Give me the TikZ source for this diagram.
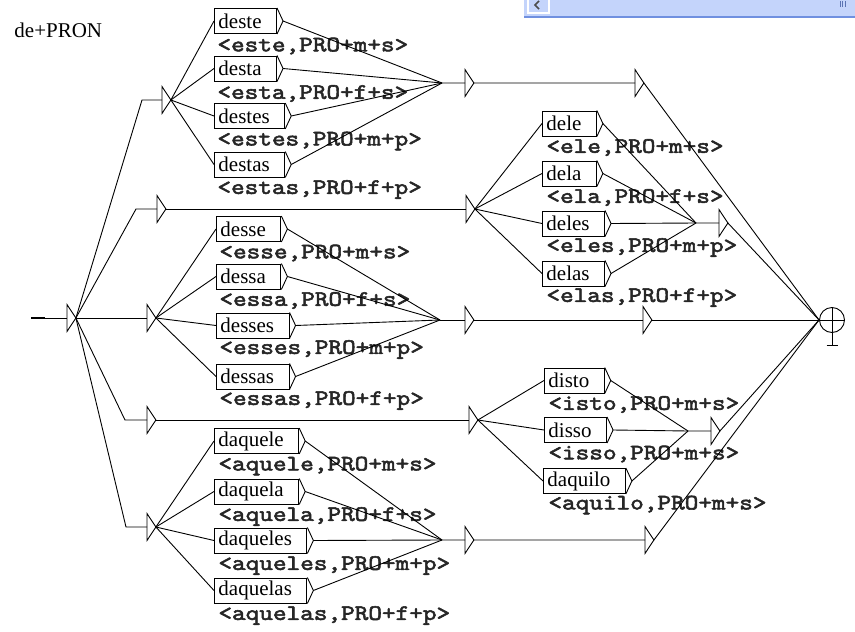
\documentclass[tikz,border=0pt]{standalone}
\usepackage{fontspec}
\setmainfont{Liberation Serif}
\newfontfamily\outfont{lmmono10-regular.otf}[FakeStretch=1.18, FakeBold=2.5]
\usetikzlibrary{calc,positioning}

\definecolor{barfill}{HTML}{C4D4FB}
\definecolor{barline}{HTML}{7090E0}

\begin{document}
\begin{tikzpicture}[x=1pt, y=-1pt, line width=0.9pt,
    epsbox/.style={inner sep=0pt, minimum width=8pt, minimum height=26pt, anchor=west},
    wordbox/.style={draw, rectangle, inner xsep=4pt, inner ysep=0pt, minimum height=25pt, anchor=west,
        font=\fontsize{21}{24}\selectfont, execute at end node={\hspace{11pt}}},
    outlabel/.style={anchor=west, inner sep=0pt, text=black!85, font=\outfont\fontsize{22}{26}\selectfont}]
    \useasboundingbox (0,0) rectangle (855,632);

    % scroll bar of the window
    \fill[barfill] (524,0) rectangle (855,17);
    \draw[barline, line width=2pt] (524,17) -- (855,17);
    \draw[white, line width=1.2pt] (528,0) -- (528,13) -- (549,13) -- (549,0);
    \draw[black!70, line width=1.5pt] (539,1) -- (535,5) -- (539,9);
    \draw[barline!80!black, line width=0.6pt] (840,1) -- (840,7) (842.5,1) -- (842.5,7) (845,1) -- (845,7);

    \node[anchor=west, inner sep=0pt, font=\fontsize{21}{24}\selectfont] (title) at (14,30) {de+PRON};

    % initial state and the five branches
    \coordinate (start) at (31,318);
    \coordinate (startend) at (45,318);
    \node[epsbox] (i0) at (67,318) {};
    \node[epsbox] (t1) at (162,100) {};
    \node[epsbox] (t2) at (157,209) {};
    \node[epsbox] (t3) at (147,318) {};
    \node[epsbox] (t4) at (147,420) {};
    \node[epsbox] (t5) at (147,527) {};
    \coordinate (t1in) at (142,100);
    \coordinate (t2in) at (136,209);
    \coordinate (t4in) at (125,420);
    \coordinate (t5in) at (126,527);

    % deste ...
    \node[wordbox] (deste)  at (214,21)    {deste};
    \node[wordbox] (desta)  at (214,68.5)  {desta};
    \node[wordbox] (destes) at (214,116)   {destes};
    \node[wordbox] (destas) at (214,164.5) {destas};
    \node[outlabel] (odeste)  at ($(deste.west)+(3,25)$)  {<este,PRO+m+s>};
    \node[outlabel] (odesta)  at ($(desta.west)+(3,25)$)  {<esta,PRO+f+s>};
    \node[outlabel] (odestes) at ($(destes.west)+(3,25)$) {<estes,PRO+m+p>};
    \node[outlabel] (odestas) at ($(destas.west)+(3,25)$) {<estas,PRO+f+p>};
    \coordinate (mA) at (442,83);
    \node[epsbox] (a1) at (465,83) {};
    \node[epsbox] (a2) at (635,83) {};

    % dele ...
    \node[epsbox] (b1) at (466,209) {};
    \node[wordbox] (dele)  at (542,123.5) {dele};
    \node[wordbox] (dela)  at (542,173.5) {dela};
    \node[wordbox] (deles) at (542,223.5) {deles};
    \node[wordbox] (delas) at (542,273.5) {delas};
    \node[outlabel] (odele)  at ($(dele.west)+(4,24)$)  {<ele,PRO+m+s>};
    \node[outlabel] (odela)  at ($(dela.west)+(4,24)$)  {<ela,PRO+f+s>};
    \node[outlabel] (odeles) at ($(deles.west)+(4,24)$) {<eles,PRO+m+p>};
    \node[outlabel] (odelas) at ($(delas.west)+(4,24)$) {<elas,PRO+f+p>};
    \coordinate (mB) at (696,223);
    \node[epsbox] (b2) at (719,223) {};

    % desse ...
    \node[wordbox] (desse)  at (216,229)   {desse};
    \node[wordbox] (dessa)  at (216,276.5) {dessa};
    \node[wordbox] (desses) at (216,325.5) {desses};
    \node[wordbox] (dessas) at (216,376.5) {dessas};
    \node[outlabel] (odesse)  at ($(desse.west)+(3,24)$)  {<esse,PRO+m+s>};
    \node[outlabel] (odessa)  at ($(dessa.west)+(3,24)$)  {<essa,PRO+f+s>};
    \node[outlabel] (odesses) at ($(desses.west)+(3,24)$) {<esses,PRO+m+p>};
    \node[outlabel] (odessas) at ($(dessas.west)+(3,24)$) {<essas,PRO+f+p>};
    \coordinate (mC) at (440,320);
    \node[epsbox] (c1) at (465,320) {};
    \node[epsbox] (c2) at (643,320) {};

    % disto ...
    \node[epsbox] (d1) at (469,420) {};
    \node[wordbox] (disto)   at (544,380.5) {disto};
    \node[wordbox] (disso)   at (544,430)   {disso};
    \node[wordbox] (daquilo) at (543,481)   {daquilo};
    \node[outlabel] (odisto)   at ($(disto.west)+(4,24)$)   {<isto,PRO+m+s>};
    \node[outlabel] (odisso)   at ($(disso.west)+(4,24)$)   {<isso,PRO+m+s>};
    \node[outlabel] (odaquilo) at ($(daquilo.west)+(5,24)$) {<aquilo,PRO+m+s>};
    \coordinate (mD) at (688,431);
    \node[epsbox] (d2) at (711,431) {};

    % daquele ...
    \node[wordbox] (daquele)  at (214,441)   {daquele};
    \node[wordbox] (daquela)  at (214,491.5) {daquela};
    \node[wordbox] (daqueles) at (214,540.5) {daqueles};
    \node[wordbox] (daquelas) at (214,590.5) {daquelas};
    \node[outlabel] (odaquele)  at ($(daquele.west)+(4,25)$)  {<aquele,PRO+m+s>};
    \node[outlabel] (odaquela)  at ($(daquela.west)+(4,25)$)  {<aquela,PRO+f+s>};
    \node[outlabel] (odaqueles) at ($(daqueles.west)+(4,25)$) {<aqueles,PRO+m+p>};
    \node[outlabel] (odaquelas) at ($(daquelas.west)+(4,25)$) {<aquelas,PRO+f+p>};
    \coordinate (mE) at (442,540);
    \node[epsbox] (e1) at (465,540) {};
    \node[epsbox] (e2) at (645,540) {};

    % final state
    \node[draw, circle, inner sep=0pt, minimum size=25pt] (fin) at (832,320) {};
    \coordinate (finfoot) at (832,345);
    \draw (fin.west) -- (fin.east);
    \draw (fin.north) -- (finfoot);
    \draw ([xshift=-5.5pt]finfoot) -- ([xshift=5.5pt]finfoot);

    % empty boxes and box tips
    \foreach \n in {i0,t1,t2,t3,t4,t5,a1,a2,b1,b2,c1,c2,d1,d2,e1,e2}
        \draw (\n.north west) -- (\n.east) -- (\n.south west) -- cycle;
    \foreach \n in {deste,desta,destes,destas,dele,dela,deles,delas,desse,dessa,desses,dessas,disto,disso,daquilo,daquele,daquela,daqueles,daquelas}
        \draw (\n.north east) -- ([xshift=6pt]\n.east) -- (\n.south east);

    % transitions
    \draw[line width=2.2pt] (start) -- (startend);
    \draw (startend) -- (i0.west);
    \draw (i0.east) -- (t1in) -- (t1.west);
    \draw (i0.east) -- (t2in) -- (t2.west);
    \draw (i0.east) -- (t3.west);
    \draw (i0.east) -- (t4in) -- (t4.west);
    \draw (i0.east) -- (t5in) -- (t5.west);

    \foreach \n in {deste,desta,destes,destas}
        \draw (t1.east) -- (\n.west) ([xshift=6pt]\n.east) -- (mA);
    \draw (mA) -- (a1.west) (a1.east) -- (a2.west) (a2.east) -- (fin.west);

    \draw (t2.east) -- (b1.west);
    \foreach \n in {dele,dela,deles,delas}
        \draw (b1.east) -- (\n.west) ([xshift=6pt]\n.east) -- (mB);
    \draw (mB) -- (b2.west) (b2.east) -- (fin.west);

    \foreach \n in {desse,dessa,desses,dessas}
        \draw (t3.east) -- (\n.west) ([xshift=6pt]\n.east) -- (mC);
    \draw (mC) -- (c1.west) (c1.east) -- (c2.west) (c2.east) -- (fin.west);

    \draw (t4.east) -- (d1.west);
    \foreach \n in {disto,disso,daquilo}
        \draw (d1.east) -- (\n.west) ([xshift=6pt]\n.east) -- (mD);
    \draw (mD) -- (d2.west) (d2.east) -- (fin.west);

    \foreach \n in {daquele,daquela,daqueles,daquelas}
        \draw (t5.east) -- (\n.west) ([xshift=6pt]\n.east) -- (mE);
    \draw (mE) -- (e1.west) (e1.east) -- (e2.west) (e2.east) -- (fin.west);
\end{tikzpicture}
\end{document}
